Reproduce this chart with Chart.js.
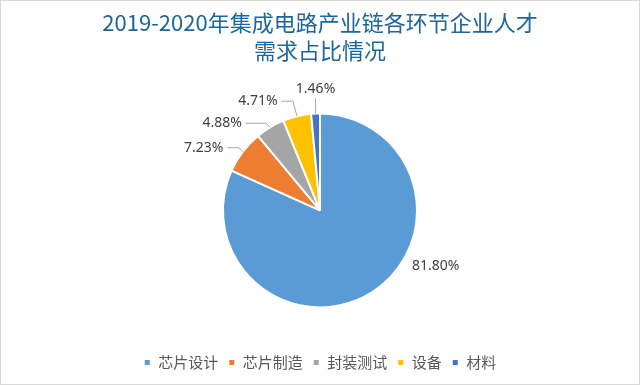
<!DOCTYPE html>
<html>
<head>
<meta charset="utf-8">
<script src="https://cdn.jsdelivr.net/npm/chart.js@4"></script>
<style>
  html, body { margin: 0; padding: 0; background: #fff; }
  .wrap { width: 640px; height: 385px; box-sizing: border-box; border: 1px solid #d9d9d9; }
</style>
</head>
<body>
<div class="wrap"><canvas class="pieChart"></canvas></div>
<script>
'use strict';

// DATA
const categories = ['芯片设计', '芯片制造', '封装测试', '设备', '材料'];
const shares = [81.8, 7.23, 4.88, 4.71, 1.46];
const colors = ['#5B9BD5', '#ED7D31', '#A5A5A5', '#FFC000', '#4472C4'];

// where each value label sits, relative to the outer edge at the slice middle
const labelOffsets = [
  { dx: 63, dy: -26, leader: false },
  { dx: -39, dy: -4, leader: true },
  { dx: -48, dy: -4, leader: true },
  { dx: -39, dy: -15, leader: true },
  { dx: 0, dy: -25, leader: true },
];

// value labels with leader lines
const pieLabels = {
  id: 'pieLabels',
  afterDatasetsDraw(chart) {
    const c = chart.ctx;
    const arcs = chart.getDatasetMeta(0).data;
    c.save();
    c.font = '14px "Noto Sans"';
    c.textAlign = 'center';
    c.textBaseline = 'middle';
    arcs.forEach((arc, i) => {
      const mid = (arc.startAngle + arc.endAngle) / 2;
      const ex = arc.x + Math.cos(mid) * arc.outerRadius;
      const ey = arc.y + Math.sin(mid) * arc.outerRadius;
      const o = labelOffsets[i];
      const lx = ex + o.dx;
      const ly = ey + o.dy;
      const text = shares[i].toFixed(2) + '%';
      const w = c.measureText(text).width;

      if (o.leader) {
        c.strokeStyle = '#A6A6A6';
        c.lineWidth = 1;
        c.beginPath();
        if (Math.abs(o.dx) < 5) {
          c.moveTo(ex, ey);
          c.lineTo(ex, ly + 10);
        } else {
          c.moveTo(lx + w / 2 + 4, ly);
          c.lineTo(ex - 4, ly);
          c.lineTo(ex, ey);
        }
        c.stroke();
      }
      c.fillStyle = '#404040';
      c.fillText(text, lx, ly);
    });
    c.restore();
  },
};

const ctx = document.querySelector('.pieChart');

const pieChart = new Chart(ctx, {
  type: 'pie',
  data: {
    labels: categories,
    datasets: [
      {
        data: shares,
        backgroundColor: colors,
        borderColor: '#fff',
        borderWidth: 2,
        radius: 97,
      },
    ],
  },
  options: {
    responsive: true,
    maintainAspectRatio: false,
    animation: false,
    layout: { padding: { bottom: 4 } },
    plugins: {
      title: {
        display: true,
        text: ['2019-2020年集成电路产业链各环节企业人才', '需求占比情况'],
        color: '#1C6699',
        font: { family: '"Noto Sans CJK SC"', size: 22, weight: 'normal', lineHeight: 1.27 },
        padding: { top: 8, bottom: 11 },
      },
      legend: {
        position: 'bottom',
        labels: {
          boxWidth: 7,
          boxHeight: 7,
          padding: 10,
          color: '#595959',
          font: { family: '"Noto Sans CJK SC"', size: 15 },
        },
      },
      tooltip: { enabled: false },
    },
  },
  plugins: [pieLabels],
});
</script>
</body>
</html>
